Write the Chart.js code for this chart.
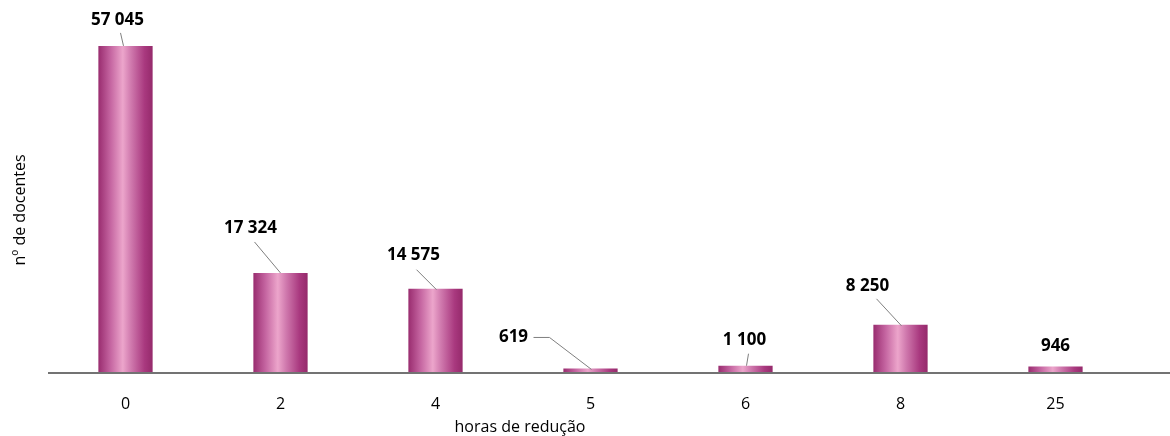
<!DOCTYPE html>
<html>
<head>
<meta charset="utf-8">
<script src="https://cdn.jsdelivr.net/npm/chart.js@4.4.1/dist/chart.umd.min.js"></script>
<style>
  html, body { margin: 0; padding: 0; background: #fff; }
  #wrap { width: 1170px; height: 436px; }
</style>
</head>
<body>
<div id="wrap"><canvas id="chart" width="1170" height="436"></canvas></div>
<script>
// horas de redução -> nº de docentes
const categories = ["0", "2", "4", "5", "6", "8", "25"];
const docentes = [57045, 17324, 14575, 619, 1100, 8250, 946];
const xTitle = "horas de redução";
const yTitle = "nº de docentes";

// label placement relative to bar top (px), and leader line points
const labelOffsets = [[-8, -26], [-30, -45], [-22, -34], [-77, -31], [-1, -26], [-33, -39], [0, -20]];
const leaders = [
  [[-5, -13], [-2, 0]],
  [[-26, -31], [0, 0]],
  [[-19, -19], [1, 1]],
  [[-57, -31], [-41, -31], [1, 1]],
  [[3, -12], [1, 0]],
  [[-24, -26], [1, 1]],
  null,
];

function fmt(v) {
  return String(v).replace(/\B(?=(\d{3})+(?!\d))/g, " ");
}

const barStyle = {
  id: "barStyle",
  beforeDatasetsDraw(chart) {
    const ctx = chart.ctx;
    chart.getDatasetMeta(0).data.forEach((bar) => {
      const x0 = bar.x - bar.width / 2;
      const x1 = bar.x + bar.width / 2;
      const g = ctx.createLinearGradient(x0, 0, x1, 0);
      g.addColorStop(0, "#992c6f");
      g.addColorStop(0.22, "#c464a0");
      g.addColorStop(0.45, "#eca5cb");
      g.addColorStop(0.6, "#d07aae");
      g.addColorStop(0.85, "#a9397f");
      g.addColorStop(1, "#952a6b");
      bar.options = Object.assign({}, bar.options, { backgroundColor: g });
    });
  },
  afterDraw(chart) {
    const ctx = chart.ctx;
    const area = chart.chartArea;
    const meta = chart.getDatasetMeta(0);
    ctx.save();
    // axis line runs on to the right edge
    ctx.strokeStyle = "#737373";
    ctx.lineWidth = 2;
    ctx.beginPath();
    ctx.moveTo(area.left, area.bottom + 1);
    ctx.lineTo(chart.width, area.bottom + 1);
    ctx.stroke();

    ctx.strokeStyle = "#7f7f7f";
    ctx.lineWidth = 1;
    ctx.textAlign = "center";
    ctx.textBaseline = "middle";
    meta.data.forEach((bar, i) => {
      const pts = leaders[i];
      if (pts) {
        ctx.beginPath();
        pts.forEach((p, j) => {
          const px = bar.x + p[0], py = bar.y + p[1];
          if (j === 0) ctx.moveTo(px, py); else ctx.lineTo(px, py);
        });
        ctx.stroke();
      }
      ctx.fillStyle = "#000";
      ctx.font = "bold 17px 'Open Sans'";
      ctx.fillText(fmt(docentes[i]), bar.x + labelOffsets[i][0], bar.y + labelOffsets[i][1]);
    });

    ctx.font = "16px 'Open Sans'";
    ctx.fillText(xTitle, 520, 427);

    ctx.translate(20, 210);
    ctx.rotate(-Math.PI / 2);
    ctx.font = "16px 'Open Sans'";
    ctx.fillText(yTitle, 0, 0);
    ctx.restore();
  },
};

new Chart(document.getElementById("chart").getContext("2d"), {
  type: "bar",
  data: {
    labels: categories,
    datasets: [
      {
        data: docentes,
        backgroundColor: "#b04a88",
        barPercentage: 0.7,
        categoryPercentage: 0.5,
      },
    ],
  },
  options: {
    responsive: false,
    animation: false,
    layout: { padding: { left: 48, right: 37, top: 29, bottom: 0 } },
    plugins: {
      legend: { display: false },
      tooltip: { enabled: false },
    },
    scales: {
      x: {
        grid: { display: false },
        border: { display: false },
        ticks: { color: "#000", padding: 15, font: { family: "Open Sans", size: 16 } },
        afterFit(scale) {
          scale.height = 64;
        },
      },
      y: {
        display: false,
        min: 0,
        max: 60000,
      },
    },
  },
  plugins: [barStyle],
});
</script>
</body>
</html>
